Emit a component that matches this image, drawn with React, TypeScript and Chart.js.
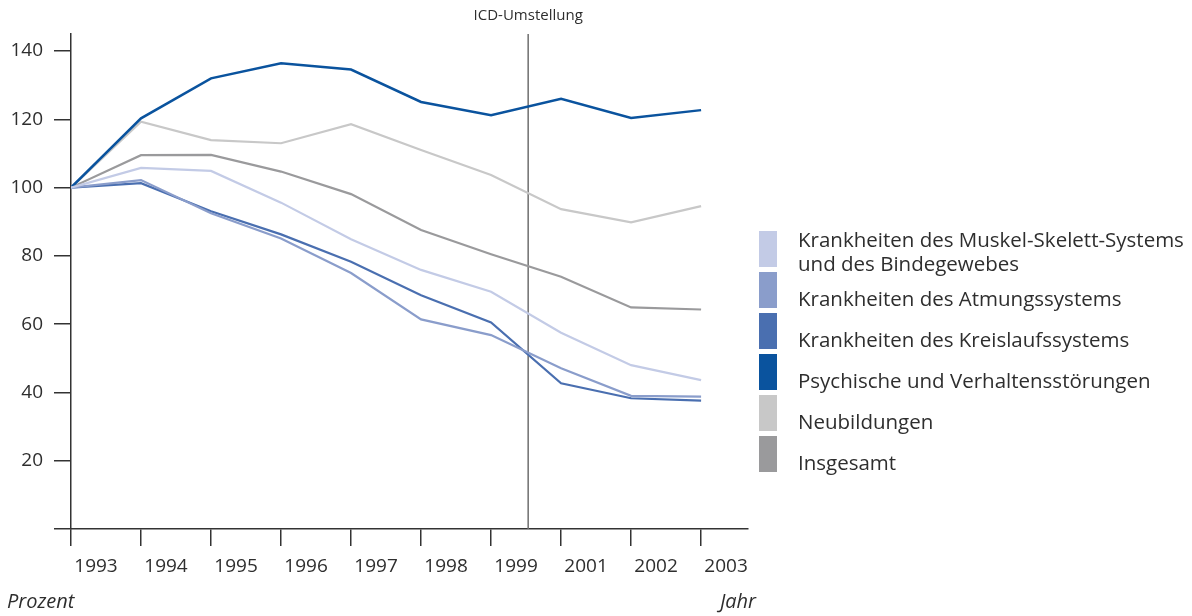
import React, { useEffect, useRef } from 'react';
import { Chart, registerables } from 'chart.js';

Chart.register(...registerables);

const years = ['1993', '1994', '1995', '1996', '1997', '1998', '1999', '2001', '2002', '2003'];
const muskelSkelett = [100, 105.8, 104.9, 95.6, 84.9, 75.9, 69.5, 57.5, 48.0, 43.6];
const atmung = [100, 102.2, 92.5, 85.1, 75.0, 61.4, 56.8, 47.1, 39.0, 38.8];
const kreislauf = [100, 101.3, 93.1, 86.3, 78.3, 68.5, 60.5, 42.7, 38.3, 37.6];
const psychisch = [100, 120.3, 132.0, 136.4, 134.6, 125.1, 121.2, 126.0, 120.4, 122.7];
const neubildungen = [100, 119.3, 113.9, 113.0, 118.6, 111.0, 103.7, 93.7, 89.8, 94.6];
const insgesamt = [100, 109.5, 109.6, 104.7, 98.1, 87.6, 80.5, 73.9, 64.9, 64.3];
const yTicks = [0, 20, 40, 60, 80, 100, 120, 140];
const seriesLabels = [
  'Krankheiten des Muskel-Skelett-Systems\nund des Bindegewebes',
  'Krankheiten des Atmungssystems',
  'Krankheiten des Kreislaufssystems',
  'Psychische und Verhaltensstörungen',
  'Neubildungen',
  'Insgesamt',
];
const seriesColors = ['#c3cbe6', '#8a9dcb', '#4a6fb0', '#0a539e', '#c8c8c8', '#9a9a9c'];
const seriesValues = [muskelSkelett, atmung, kreislauf, psychisch, neubildungen, insgesamt];
const icdPosition = 6.53;
const icdLabel = 'ICD-Umstellung';
const yAxisTitle = 'Prozent';
const xAxisTitle = 'Jahr';

const FONT = '"Open Sans", sans-serif';
const TEXT = '#2e2e2e';

const decorPlugin = {
  id: 'decor',
  beforeDatasetsDraw(chart: any) {
    const { ctx, chartArea, scales } = chart;
    const x = scales.x.getPixelForValue(icdPosition);
    ctx.save();
    ctx.strokeStyle = '#6e6e6e';
    ctx.lineWidth = 1.5;
    ctx.beginPath();
    ctx.moveTo(x, chartArea.top);
    ctx.lineTo(x, chartArea.bottom);
    ctx.stroke();
    ctx.fillStyle = TEXT;
    ctx.font = `15px ${FONT}`;
    ctx.textAlign = 'center';
    ctx.textBaseline = 'middle';
    ctx.fillText(icdLabel, x, 16);
    ctx.restore();
  },
  afterDraw(chart: any) {
    const { ctx, chartArea } = chart;
    ctx.save();
    ctx.fillStyle = TEXT;
    ctx.font = `italic 20px ${FONT}`;
    ctx.textBaseline = 'middle';
    ctx.textAlign = 'left';
    ctx.fillText(yAxisTitle, 7, 602);
    ctx.textAlign = 'right';
    ctx.fillText(xAxisTitle, chartArea.right + 8, 602);

    // legend
    chart.data.datasets.forEach((ds: any, i: number) => {
      const top = 231 + 41 * i;
      ctx.fillStyle = ds.borderColor;
      ctx.fillRect(759, top, 18, 36);
      const lines = String(ds.label).split('\n');
      ctx.fillStyle = TEXT;
      ctx.font = `20.5px ${FONT}`;
      ctx.textAlign = 'left';
      ctx.textBaseline = 'middle';
      if (lines.length > 1) {
        lines.forEach((l: string, j: number) => ctx.fillText(l, 798, top + 10 + 24 * j));
      } else {
        ctx.fillText(lines[0], 798, top + 28);
      }
    });
    ctx.restore();
  },
};

export default function App() {
  const ref = useRef<HTMLCanvasElement>(null);
  useEffect(() => {
    if (!ref.current) return;
    const chart = new Chart(ref.current, {
      type: 'line',
      data: {
        datasets: seriesValues.map((vals, i) => ({
          label: seriesLabels[i],
          data: vals.map((v, j) => ({ x: j, y: v })),
          borderColor: seriesColors[i],
          backgroundColor: seriesColors[i],
          borderWidth: i === 3 ? 2.5 : 2.2,
          pointRadius: 0,
          tension: 0,
          fill: false,
        })),
      },
      options: {
        responsive: false,
        animation: false,
        layout: { padding: { top: 34, right: 444, bottom: 0, left: 0 } },
        plugins: { legend: { display: false }, tooltip: { enabled: false }, title: { display: false } },
        scales: {
          x: {
            type: 'linear',
            min: 0,
            max: 9.67,
            afterBuildTicks: (s: any) => {
              s.ticks = years.map((_, i) => ({ value: i }));
            },
            afterFit: (s: any) => {
              s.height = 87;
            },
            grid: { drawOnChartArea: false, drawTicks: true, tickLength: 17, color: '#333', lineWidth: 1.5 },
            border: { display: true, color: '#333', width: 1.5 },
            ticks: {
              labelOffset: 25,
              padding: 9,
              maxRotation: 0,
              autoSkip: false,
              color: TEXT,
              font: { family: FONT, size: 19 },
              callback: (v: any) => years[v],
            },
          },
          y: {
            type: 'linear',
            min: 0,
            max: 145,
            afterBuildTicks: (s: any) => {
              s.ticks = yTicks.map((v) => ({ value: v }));
            },
            afterFit: (s: any) => {
              s.width = 71;
            },
            grid: { drawOnChartArea: false, drawTicks: true, tickLength: 17, color: '#333', lineWidth: 1.5 },
            border: { display: true, color: '#333', width: 1.5 },
            ticks: {
              padding: 11,
              color: TEXT,
              font: { family: FONT, size: 19 },
              callback: (v: any) => (v === 0 ? '' : String(v)),
            },
          },
        },
      },
      plugins: [decorPlugin],
    } as any);
    return () => chart.destroy();
  }, []);
  return (
    <div style={{ position: 'absolute', left: 0, top: 0, width: 1192, height: 616, background: '#fff' }}>
      <canvas ref={ref} width={1192} height={616} style={{ display: 'block' }} />
    </div>
  );
}
